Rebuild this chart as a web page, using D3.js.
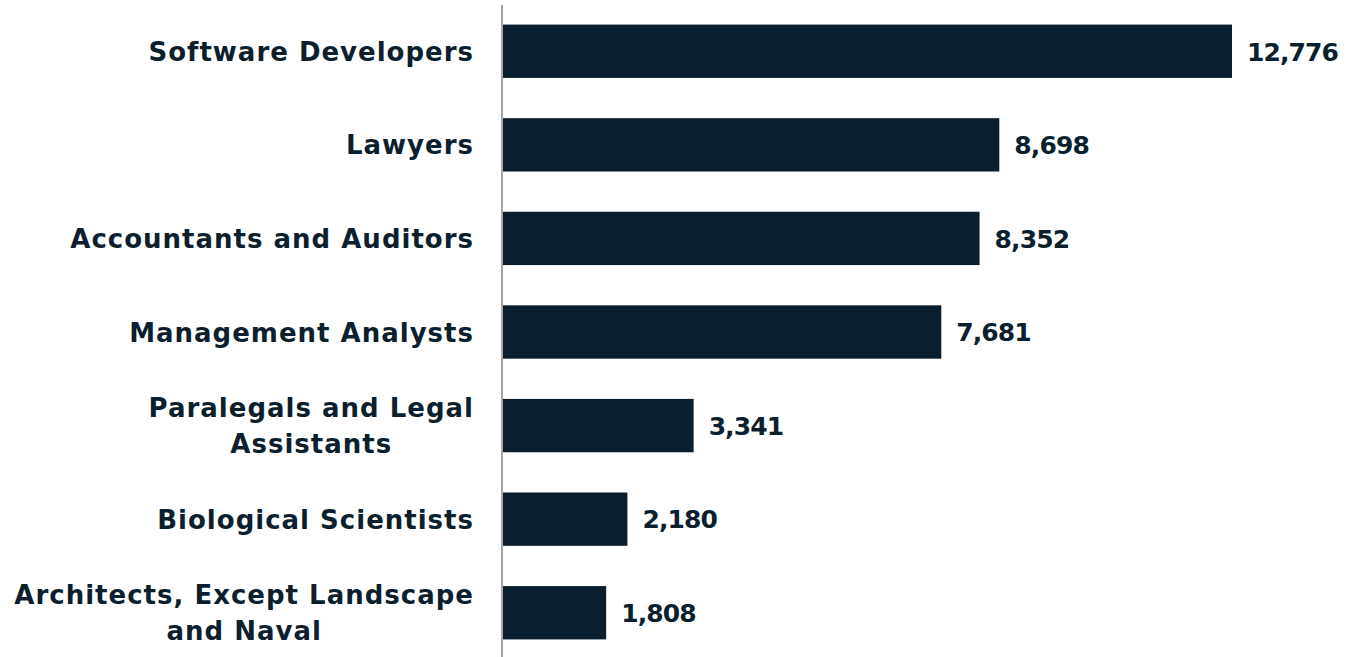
<!DOCTYPE html>
<html>
<head>
<meta charset="utf-8">
<script src="https://cdn.jsdelivr.net/npm/d3@7"></script>
<style>
  body { margin: 0; background: #fff; }
  text { font-family: "DejaVu Sans", sans-serif; font-weight: 700; fill: #0b1f2e; }
</style>
</head>
<body>
<div id="chart"></div>
<script>
const categories = [
  ["Software Developers"],
  ["Lawyers"],
  ["Accountants and Auditors"],
  ["Management Analysts"],
  ["Paralegals and Legal", "Assistants"],
  ["Biological Scientists"],
  ["Architects, Except Landscape", "and Naval"]
];
const values = [12776, 8698, 8352, 7681, 3341, 2180, 1808];

const width = 1352, height = 657;
const axisX = 502;
const labelRight = 474;

const svg = d3.select('#chart').append('svg')
  .attr('width', width)
  .attr('height', height);

const x = d3.scaleLinear()
  .domain([0, d3.max(values)])
  .range([axisX + 1, 1232]);

const y = d3.scaleBand()
  .domain(d3.range(values.length))
  .range([4, 660])
  .paddingInner(0.43)
  .paddingOuter(0.22);

svg.selectAll('rect.bar')
  .data(values)
  .enter().append('rect')
    .attr('class', 'bar')
    .attr('x', x(0))
    .attr('y', (d, i) => y(i))
    .attr('width', d => x(d) - x(0))
    .attr('height', y.bandwidth())
    .attr('fill', '#0a1e2d');

svg.selectAll('text.value')
  .data(values)
  .enter().append('text')
    .attr('class', 'value')
    .attr('x', d => x(d) + 15)
    .attr('y', (d, i) => y(i) + y.bandwidth() / 2)
    .attr('dy', '0.37em')
    .attr('font-size', 25)
    .attr('letter-spacing', -0.9)
    .text(d => d3.format(',')(d));

const labels = svg.selectAll('text.label')
  .data(categories)
  .enter().append('text')
    .attr('class', 'label')
    .attr('font-size', 26)
    .attr('letter-spacing', 1)
    .attr('y', (d, i) => y(i) + y.bandwidth() / 2);

labels.each(function(lines) {
  const t = d3.select(this);
  const spans = lines.map((line, j) => t.append('tspan')
    .attr('dy', j == 0 ? (0.37 - (lines.length - 1) * 0.69) + 'em' : '1.38em')
    .text(line));
  const firstW = spans[0].node().getComputedTextLength();
  const centre = labelRight - firstW / 2;
  spans.forEach(s => {
    s.attr('x', centre - s.node().getComputedTextLength() / 2);
  });
});

// vertical axis line
svg.append('line')
  .attr('x1', axisX).attr('x2', axisX)
  .attr('y1', 5).attr('y2', height)
  .attr('stroke', '#a6a6a6')
  .attr('stroke-width', 2);
</script>
</body>
</html>
